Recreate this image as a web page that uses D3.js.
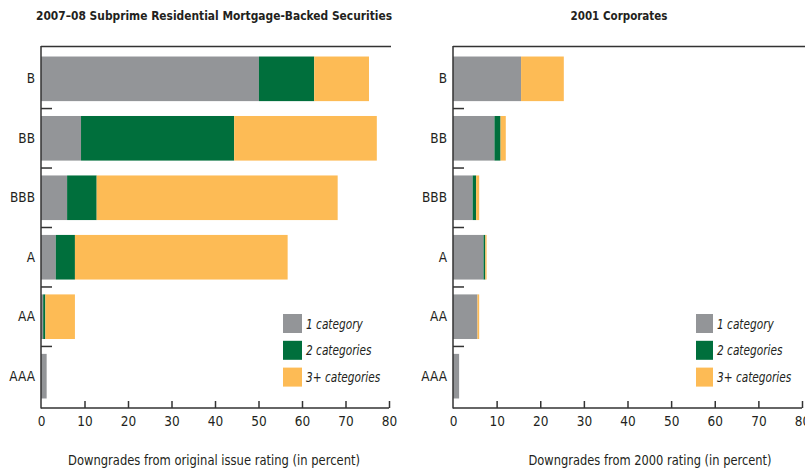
<!DOCTYPE html>
<html>
<head>
<meta charset="utf-8">
<script src="https://cdn.jsdelivr.net/npm/d3@7"></script>
<style>
  body { margin: 0; background: #fff; }
  svg { display: block; }
  text { font-family: "DejaVu Sans Condensed", "DejaVu Sans", sans-serif; font-stretch: condensed; fill: #231f20; }
</style>
</head>
<body>
<svg id="chart" width="805" height="470"></svg>
<script>
const categories = ["B", "BB", "BBB", "A", "AA", "AAA"];
const seriesNames = ["1 category", "2 categories", "3+ categories"];
const seriesColors = ["#939598", "#006f3c", "#fdbb55"];
const xTicks = [0, 10, 20, 30, 40, 50, 60, 70, 80];

// 2007–08 Subprime RMBS (percent downgraded, by number of categories)
const rmbsOne   = [50.1, 9.2, 6.0, 3.4, 0.5, 1.3];
const rmbsTwo   = [12.7, 35.2, 6.8, 4.4, 0.5, 0];
const rmbsThree = [12.6, 32.8, 55.4, 48.9, 6.8, 0];

// 2001 Corporates
const corpOne   = [15.6, 9.5, 4.5, 7.0, 5.6, 1.4];
const corpTwo   = [0, 1.4, 0.8, 0.4, 0, 0];
const corpThree = [9.8, 1.2, 0.7, 0.3, 0.4, 0];

const svg = d3.select("#chart");

function drawPanel(cfg) {
  const g = svg.append("g");
  const x = d3.scaleLinear().domain([0, 80]).range([cfg.x0, cfg.x1]);
  const y = d3.scaleBand().domain(categories).range([47, 408]).paddingInner(0.25).paddingOuter(0.16);

  const rows = categories.map((c, i) => ({ cat: c, vals: [cfg.one[i], cfg.two[i], cfg.three[i]] }));
  const stack = d3.stack().keys([0, 1, 2]).value((d, k) => d.vals[k]);
  const layers = stack(rows);

  g.selectAll("g.layer").data(layers).join("g")
    .attr("fill", (d, i) => seriesColors[i])
    .selectAll("rect").data(d => d.filter(s => s[1] - s[0] > 0)).join("rect")
    .attr("x", d => x(d[0]))
    .attr("width", d => x(d[1]) - x(d[0]))
    .attr("y", d => y(d.data.cat))
    .attr("height", y.bandwidth());

  // top frame line
  g.append("line").attr("x1", cfg.x0).attr("x2", cfg.topEnd).attr("y1", 46.5).attr("y2", 46.5)
    .attr("stroke", "#333").attr("stroke-width", 1.5);

  // y axis
  const yAxis = d3.axisLeft(y).tickSize(0).tickPadding(6);
  const ya = g.append("g").attr("transform", `translate(${cfg.x0},0)`).call(yAxis);
  ya.attr("font-family", null);
  ya.select(".domain").attr("stroke", "#333").attr("stroke-width", 1.5).attr("d", "M0,46V408.5");
  ya.selectAll("text").attr("font-size", 13.5);

  // divider ticks between categories
  const dividers = categories.slice(1).map(c => y(c) - y.step() * y.paddingInner() / 2);
  g.selectAll("line.div").data(dividers).join("line")
    .attr("x1", cfg.x0).attr("x2", cfg.x0 + 11).attr("y1", d => d).attr("y2", d => d)
    .attr("stroke", "#333").attr("stroke-width", 1.5);

  // x axis
  const xAxis = d3.axisBottom(x).tickValues(xTicks).tickSize(-7).tickPadding(8).tickFormat(d3.format("d"));
  const xa = g.append("g").attr("transform", "translate(0,408)").call(xAxis);
  xa.attr("font-family", null);
  xa.select(".domain").attr("stroke", "#333").attr("stroke-width", 1.5).attr("d", `M${cfg.x0},0H${cfg.x1}`);
  xa.selectAll(".tick line").attr("stroke", "#333").attr("stroke-width", 1.5);
  xa.selectAll(".tick").filter(d => d === 0).select("line").remove();
  xa.selectAll("text").attr("font-size", 13.5);

  // titles
  g.append("text").attr("x", cfg.titleX).attr("y", 20).attr("text-anchor", "middle")
    .attr("font-size", 13).attr("font-weight", "bold")
    .attr("textLength", cfg.titleLen).attr("lengthAdjust", "spacingAndGlyphs").text(cfg.title);
  g.append("text").attr("x", cfg.axisTitleX).attr("y", 465).attr("text-anchor", "middle")
    .attr("font-size", 13.5)
    .attr("textLength", cfg.axisTitleLen).attr("lengthAdjust", "spacingAndGlyphs").text(cfg.axisTitle);

  // legend
  const lg = g.append("g").attr("transform", `translate(${cfg.legX},314)`);
  seriesNames.forEach((n, i) => {
    lg.append("rect").attr("x", 0).attr("y", i * 26.8).attr("width", cfg.legW).attr("height", 19)
      .attr("fill", seriesColors[i]);
    const t = lg.append("text").attr("x", cfg.legW + 4).attr("y", i * 26.8 + 14.5)
      .attr("font-size", 13.5).attr("font-style", "italic").text(n);
    const len = t.node().getComputedTextLength();
    t.attr("textLength", len * 0.87).attr("lengthAdjust", "spacingAndGlyphs");
  });
}

drawPanel({
  x0: 41, x1: 389, topEnd: 391,
  one: rmbsOne, two: rmbsTwo, three: rmbsThree,
  title: "2007–08 Subprime Residential Mortgage-Backed Securities", titleX: 214, titleLen: 356,
  axisTitle: "Downgrades from original issue rating (in percent)", axisTitleX: 214, axisTitleLen: 292,
  legX: 283, legW: 19
});

drawPanel({
  x0: 453, x1: 802, topEnd: 805,
  one: corpOne, two: corpTwo, three: corpThree,
  title: "2001 Corporates", titleX: 619, titleLen: 97,
  axisTitle: "Downgrades from 2000 rating (in percent)", axisTitleX: 650, axisTitleLen: 243,
  legX: 696, legW: 17
});
</script>
</body>
</html>
